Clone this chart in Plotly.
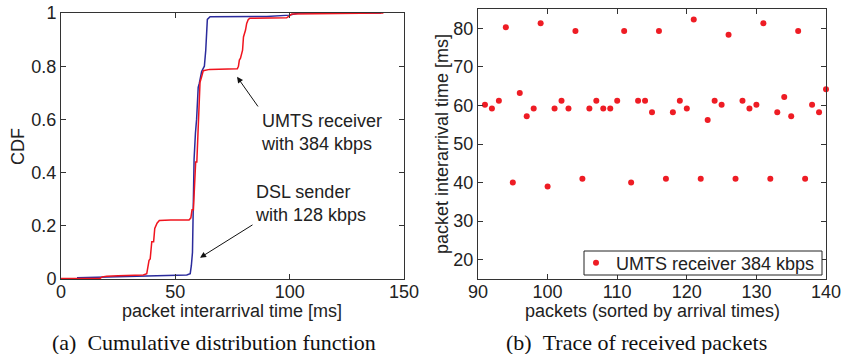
import plotly.graph_objects as go

# ---- Data: CDF curves (packet interarrival time [ms] vs CDF) ----
dsl_x = [7, 20, 40, 55, 56.5, 57, 57.5, 57.8, 58.2, 58.8, 59.3, 60, 60.5, 61.5,
         62.7, 63.3, 64, 65.2, 70, 90, 100.1, 101.5, 104, 140]
dsl_y = [0.005, 0.008, 0.012, 0.015, 0.02, 0.05, 0.1, 0.25, 0.45, 0.55, 0.6, 0.72,
         0.736, 0.78, 0.80, 0.86, 0.976, 0.986, 0.986, 0.987, 0.992, 0.995, 1.0, 1.0]

umts_x = [0, 17, 18, 20, 25, 36, 37.5, 38.5, 39, 39.7, 40.5, 41, 42, 43, 48, 56,
          56.8, 57.3, 57.9, 58.3, 58.9, 59.4, 59.8, 60.2, 60.8, 61.5, 62.2, 65, 70,
          77.1, 77.6, 78, 78.5, 79.4, 79.8, 80.7, 81.2, 81.9, 82.6, 90, 98.7, 100,
          100.9, 141]
umts_y = [0.002, 0.002, 0.008, 0.01, 0.012, 0.015, 0.02, 0.07, 0.075, 0.14, 0.14,
          0.19, 0.21, 0.22, 0.222, 0.222, 0.23, 0.26, 0.26, 0.33, 0.44, 0.44, 0.55,
          0.62, 0.74, 0.76, 0.783, 0.788, 0.788, 0.79, 0.80, 0.823, 0.83, 0.86,
          0.91, 0.936, 0.961, 0.976, 0.98, 0.981, 0.982, 0.99, 0.996, 1.0]

# ---- Data: trace of received packets ----
packet_idx = list(range(91, 141))
interarrival = [60.2, 59.2, 61.2, 80.3, 40.0, 63.2, 57.2, 59.2, 81.3, 39.0,
                59.2, 61.2, 59.2, 79.3, 41.0, 59.2, 61.2, 59.2, 59.2, 61.2,
                79.3, 40.0, 61.2, 61.2, 58.2, 79.3, 41.0, 58.2, 61.2, 59.2,
                82.3, 41.0, 56.2, 61.2, 60.2, 78.3, 41.0, 61.2, 59.2, 60.2,
                81.3, 41.0, 58.2, 62.2, 57.2, 79.3, 41.0, 60.2, 58.2, 64.2]

left_xticks = [0, 50, 100, 150]
left_yticks = [0, 0.2, 0.4, 0.6, 0.8, 1]
right_xticks = [90, 100, 110, 120, 130, 140]
right_yticks = [20, 30, 40, 50, 60, 70, 80]

W, H = 841, 354
FONT = "Liberation Sans, Arial, sans-serif"
SERIF = "Liberation Serif, Times New Roman, serif"

fig = go.Figure()
fig.add_trace(go.Scatter(x=dsl_x, y=dsl_y, mode="lines",
                         line=dict(color="#2b2b9c", width=1.5),
                         showlegend=False, xaxis="x", yaxis="y"))
fig.add_trace(go.Scatter(x=umts_x, y=umts_y, mode="lines",
                         line=dict(color="#f0141e", width=1.5),
                         showlegend=False, xaxis="x", yaxis="y"))
fig.add_trace(go.Scatter(x=packet_idx, y=interarrival, mode="markers",
                         marker=dict(color="#ee1c24", size=6),
                         name="UMTS receiver 384 kbps", showlegend=True,
                         xaxis="x2", yaxis="y2", cliponaxis=False))

axis_common = dict(showline=True, mirror="ticks", linecolor="#333333", linewidth=1,
                   ticks="inside", ticklen=5, tickcolor="#333333", showgrid=False,
                   zeroline=False, automargin=False, ticklabeloverflow="allow",
                   tickfont=dict(family=FONT, size=18, color="#222222"))

def px_x(p):
    return p / W

def px_y(p):
    return 1 - p / H

fig.update_layout(
    template="none",
    width=W, height=H, autosize=False,
    margin=dict(l=0, r=0, t=0, b=0, pad=0),
    paper_bgcolor="white", plot_bgcolor="white",
    font=dict(family=FONT, size=18, color="#222222"),
    xaxis=dict(domain=[px_x(61), px_x(404)], range=[0, 150], tickvals=left_xticks,
               anchor="y", ticklabelstandoff=-4, **axis_common),
    yaxis=dict(domain=[px_y(279), px_y(13)], range=[0, 1], tickvals=left_yticks,
               anchor="x", **axis_common),
    xaxis2=dict(domain=[px_x(478), px_x(826)], range=[90, 140], tickvals=right_xticks,
                anchor="y2", ticklabelstandoff=-4, **axis_common),
    yaxis2=dict(domain=[px_y(279), px_y(9)], range=[15, 85], tickvals=right_yticks,
                anchor="x2", **axis_common),
    legend=dict(x=px_x(576), y=px_y(263), xanchor="left", yanchor="middle",
                borderwidth=0, bgcolor="rgba(0,0,0,0)",
                font=dict(family=FONT, size=18, color="#222222"),
                itemwidth=30, tracegroupgap=0),
    shapes=[dict(type="rect", xref="paper", yref="paper",
                 x0=px_x(584), x1=px_x(822), y0=px_y(275), y1=px_y(251),
                 line=dict(color="#222222", width=1), fillcolor="white", layer="above")],
)

ann = []
# axis titles
ann.append(dict(text="packet interarrival time [ms]", x=px_x(232), y=px_y(311),
                xref="paper", yref="paper", showarrow=False, xanchor="center",
                yanchor="middle", font=dict(family=FONT, size=18, color="#222222")))
ann.append(dict(text="CDF", x=px_x(18), y=px_y(147), xref="paper", yref="paper",
                showarrow=False, textangle=-90, xanchor="center", yanchor="middle",
                font=dict(family=FONT, size=18, color="#222222")))
ann.append(dict(text="packets (sorted by arrival times)", x=px_x(652), y=px_y(311),
                xref="paper", yref="paper", showarrow=False, xanchor="center",
                yanchor="middle", font=dict(family=FONT, size=18, color="#222222")))
ann.append(dict(text="packet interarrival time [ms]", x=px_x(442), y=px_y(144),
                xref="paper", yref="paper", showarrow=False, textangle=-90,
                xanchor="center", yanchor="middle",
                font=dict(family=FONT, size=18, color="#222222")))
# captions
ann.append(dict(text="(a)\u2002Cumulative distribution function", x=px_x(214), y=px_y(342),
                xref="paper", yref="paper", showarrow=False, xanchor="center",
                yanchor="middle", font=dict(family=SERIF, size=22, color="#111111")))
ann.append(dict(text="(b)\u2002Trace of received packets", x=px_x(636), y=px_y(342),
                xref="paper", yref="paper", showarrow=False, xanchor="center",
                yanchor="middle", font=dict(family=SERIF, size=22, color="#111111")))
# in-plot labels
ann.append(dict(text="UMTS receiver<br>with 384 kbps", x=86.4, y=0.64, xref="x", yref="y",
                showarrow=False, xanchor="left", yanchor="top", align="left",
                font=dict(family=FONT, size=18, color="#222222")))
ann.append(dict(text="DSL sender<br>with 128 kbps", x=84.0, y=0.374, xref="x", yref="y",
                showarrow=False, xanchor="left", yanchor="top", align="left",
                font=dict(family=FONT, size=18, color="#222222")))
# arrows
ann.append(dict(text="", x=77, y=0.76, ax=86.6, ay=0.643, xref="x", yref="y",
                axref="x", ayref="y", showarrow=True, arrowhead=2, arrowsize=1.2,
                arrowwidth=1, arrowcolor="#111111"))
ann.append(dict(text="", x=60.8, y=0.08, ax=84.4, ay=0.207, xref="x", yref="y",
                axref="x", ayref="y", showarrow=True, arrowhead=2, arrowsize=1.2,
                arrowwidth=1, arrowcolor="#111111"))
fig.update_layout(annotations=ann)

fig.write_html(
    "out.html",
    post_script="document.documentElement.style.margin='0';"
                "document.body.style.margin='0';document.body.style.padding='0';"
                "document.body.style.overflow='hidden';",
)
